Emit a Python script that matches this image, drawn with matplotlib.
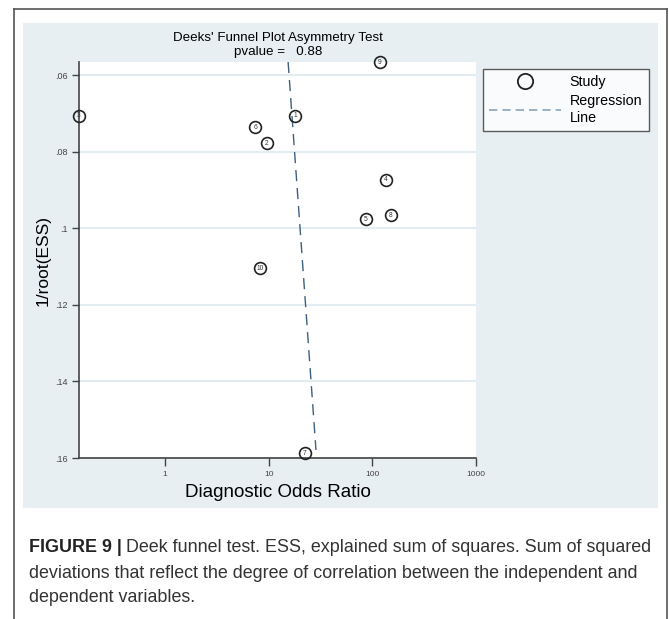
import matplotlib
matplotlib.use("Agg")
import matplotlib.pyplot as plt
from matplotlib.lines import Line2D
from matplotlib.patches import Rectangle

plt.rcParams["font.family"] = ["Liberation Sans", "DejaVu Sans"]

# Study data
study_id = ["1", "2", "3", "4", "5", "6", "7", "8", "9", "10"]
dor = [17.9, 9.6, 0.148, 135, 87, 7.4, 22.4, 151, 118, 8.2]
inv_root_ess = [0.0707, 0.0778, 0.0707, 0.0874, 0.0976, 0.0736, 0.1587, 0.0966, 0.0566, 0.1104]

# regression line end points (DOR, 1/root(ESS))
reg_dor = [15.4, 28.6]
reg_y = [0.0566, 0.1579]

y_ticks = [0.06, 0.08, 0.10, 0.12, 0.14, 0.16]
y_tick_labels = [".06", ".08", ".1", ".12", ".14", ".16"]
x_ticks = [1, 10, 100, 1000]
x_tick_labels = ["1", "10", "100", "1000"]

W, H = 669, 619
fig = plt.figure(figsize=(W / 100, H / 100), dpi=100)
fig.patch.set_facecolor("white")

# outer journal frame
border = "#555555"
fig.add_artist(Line2D([14 / W, 667 / W], [1 - 9 / H, 1 - 9 / H], color=border, lw=1.2))
fig.add_artist(Line2D([14 / W, 14 / W], [0, 1 - 9 / H], color=border, lw=1.2))
fig.add_artist(Line2D([667 / W, 667 / W], [0, 1 - 9 / H], color=border, lw=1.2))

# light blue graph region
bg = "#e8eff2"
fig.add_artist(Rectangle((23 / W, 1 - 508 / H), (658 - 23) / W, (508 - 23) / H,
                         transform=fig.transFigure, facecolor=bg, edgecolor="none", zorder=0))

ax = fig.add_axes([79 / W, 1 - 458 / H, (476 - 79) / W, (458 - 62) / H])
ax.set_facecolor("white")

ax.set_xscale("log")
ax.set_xlim(0.148, 1000)
ax.set_ylim(0.16, 0.0566)

for yv in y_ticks:
    ax.axhline(yv, color="#e3ecf0", lw=1.5, zorder=1)

ax.plot(dor, inv_root_ess, ls="none", marker="o", ms=8.5, mfc="none",
        mec="#222222", mew=1.2, clip_on=False, zorder=3)
for sid, xv, yv in zip(study_id, dor, inv_root_ess):
    ax.annotate(sid, (xv, yv), ha="center", va="center", fontsize=4.8,
                color="#333333", annotation_clip=False, zorder=4)

ax.plot(reg_dor, reg_y, color="#3d5f80", lw=1.0, ls=(0, (8, 5)), zorder=2)

ax.set_xticks(x_ticks)
ax.set_xticklabels(x_tick_labels)
ax.xaxis.set_minor_locator(matplotlib.ticker.NullLocator())
ax.set_yticks(y_ticks)
ax.set_yticklabels(y_tick_labels)
ax.tick_params(axis="x", length=6, width=1, color="#444444", labelsize=6,
               labelcolor="#444444", pad=3)
ax.tick_params(axis="y", length=5, width=1, color="#444444", labelsize=6.5,
               labelcolor="#444444", pad=3)

for side in ["top", "right"]:
    ax.spines[side].set_visible(False)
for side in ["left", "bottom"]:
    ax.spines[side].set_color("#444444")
    ax.spines[side].set_linewidth(1.2)

ax.set_xlabel("Diagnostic Odds Ratio", fontsize=13.5, labelpad=5)
ax.set_ylabel("1/root(ESS)", fontsize=12.5, labelpad=3)

fig.text(278 / W, 1 - 38 / H, "Deeks' Funnel Plot Asymmetry Test", ha="center",
         va="center", fontsize=9.6)
fig.text(278 / W, 1 - 52 / H, "pvalue =   0.88", ha="center", va="center", fontsize=9.6)

handles = [
    Line2D([], [], ls="none", marker="o", ms=11, mfc="none", mec="#222222", mew=1.3),
    Line2D([], [], color="#8aa4bb", lw=1.2, ls=(0, (5, 3))),
]
leg = fig.legend(handles, ["Study", "Regression\nLine"], loc="upper left",
                 bbox_to_anchor=(483 / W, 1 - 69 / H), borderaxespad=0,
                 fontsize=10.3, frameon=True, fancybox=False, edgecolor="#333333",
                 handlelength=5.0, handletextpad=0.6, borderpad=0.45,
                 labelspacing=0.35)
leg.get_frame().set_linewidth(1.0)
leg.get_frame().set_facecolor("white")

# caption
cap_size = 12.9
bold = fig.text(29 / W, 1 - 548 / H, "FIGURE 9 |", ha="left", va="center",
                fontsize=cap_size, fontweight="bold", color="#222222")
fig.canvas.draw()
bb = bold.get_window_extent(renderer=fig.canvas.get_renderer())
fig.text(bb.x1 / W + 4 / W, 1 - 548 / H,
         "Deek funnel test. ESS, explained sum of squares. Sum of squared",
         ha="left", va="center", fontsize=cap_size, color="#333333")
fig.text(29 / W, 1 - 573 / H,
         "deviations that reflect the degree of correlation between the independent and",
         ha="left", va="center", fontsize=cap_size, color="#333333")
fig.text(29 / W, 1 - 597 / H, "dependent variables.", ha="left", va="center",
         fontsize=cap_size, color="#333333")

fig.savefig("out.png", dpi=100, facecolor="white")
